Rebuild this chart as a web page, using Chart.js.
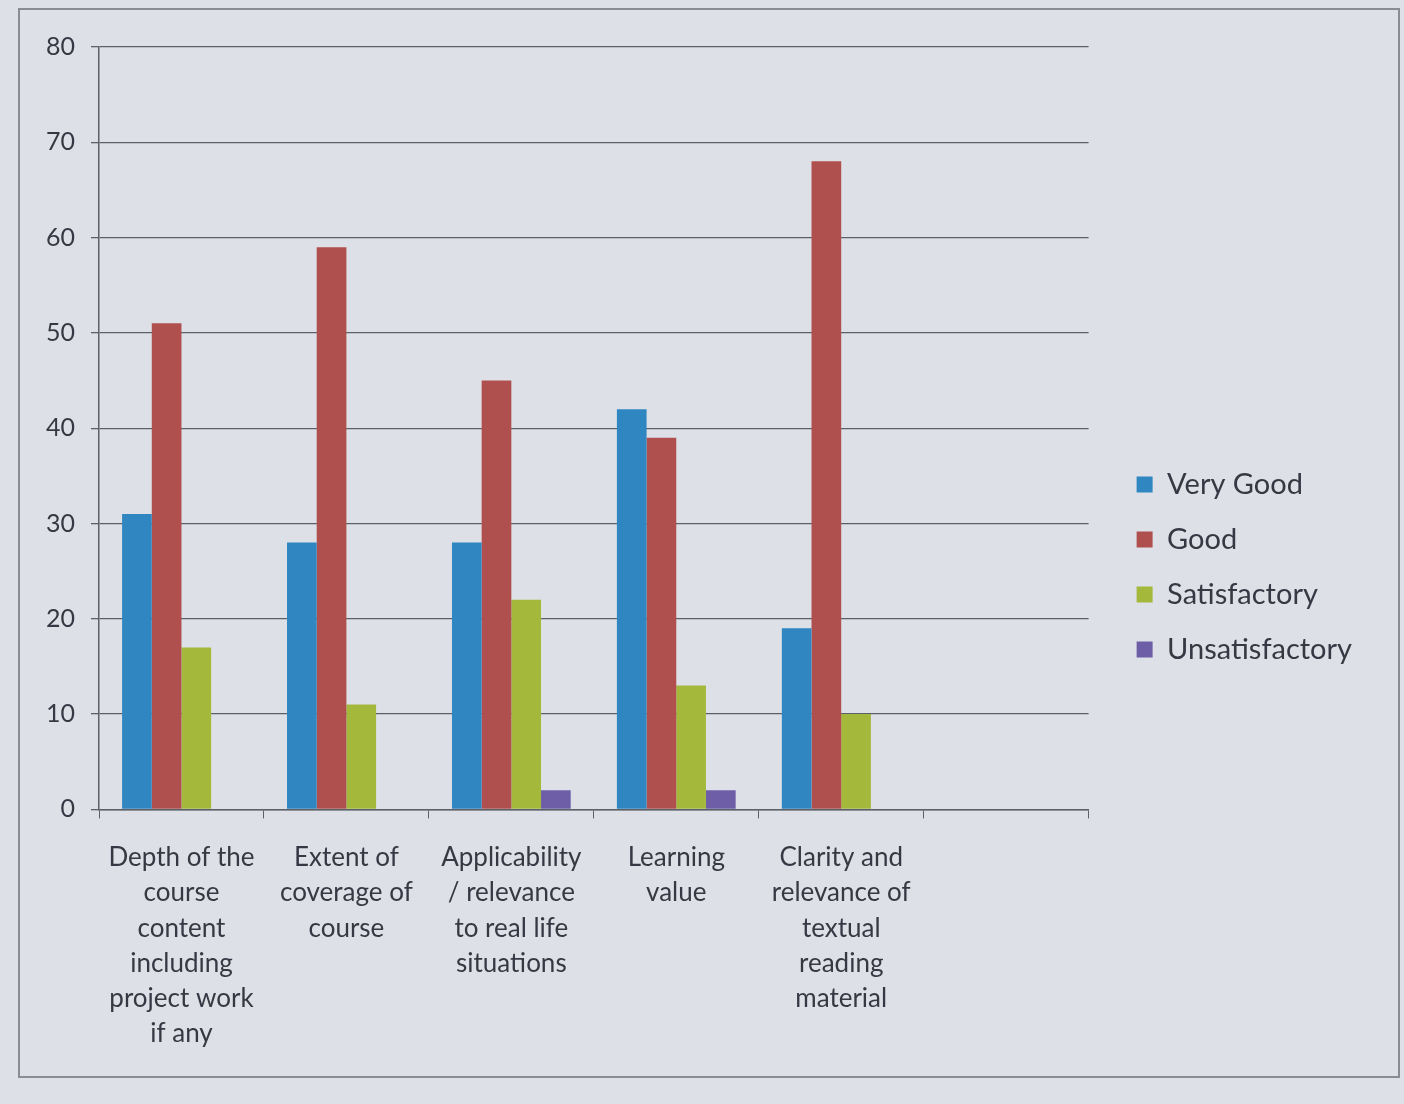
<!DOCTYPE html>
<html>
<head>
<meta charset="utf-8">
<script src="https://cdn.jsdelivr.net/npm/chart.js@4.4.1/dist/chart.umd.min.js"></script>
<style>
    body { margin: 0; background: #dde1e7; }
    #frame {
        position: absolute; left: 18px; top: 8px;
        width: 1378px; height: 1066px;
        border: 2px solid #8a8c92;
    }
</style>
</head>
<body>
<div id="frame"><canvas id="ratingChart" width="1378" height="1066"></canvas></div>
<script>
// Course feedback ratings (percent), last slot left empty as in the original
const categories = [
    ['Depth of the', 'course', 'content', 'including', 'project work', 'if any'],
    ['Extent of', 'coverage of', 'course'],
    ['Applicability', '/ relevance', 'to real life', 'situations'],
    ['Learning', 'value'],
    ['Clarity and', 'relevance of', 'textual', 'reading', 'material'],
    ''
];
const veryGood = [31, 28, 28, 42, 19, null];
const good = [51, 59, 45, 39, 68, null];
const satisfactory = [17, 11, 22, 13, 10, null];
const unsatisfactory = [0, 0, 2, 2, 0, null];
const yTicks = [0, 10, 20, 30, 40, 50, 60, 70, 80];

const textColor = '#383844';
const gridColor = '#5e6068';

// leave a wider gap between the plot and the legend
const legendGap = {
    id: 'legendGap',
    beforeLayout(chart) {
        const legend = chart.legend;
        if (legend && !legend._gapPatched) {
            const fit = legend.fit;
            legend.fit = function () {
                fit.call(this);
                this.width += 22;
            };
            legend._gapPatched = true;
        }
    },
    afterLayout(chart) {
        if (chart.legend) chart.legend.left += 22;
    }
};

const ctx = document.getElementById('ratingChart');
new Chart(ctx, {
    type: 'bar',
    data: {
        labels: categories,
        datasets: [
            { label: 'Very Good', data: veryGood, backgroundColor: '#2f86c0' },
            { label: 'Good', data: good, backgroundColor: '#b0504e' },
            { label: 'Satisfactory', data: satisfactory, backgroundColor: '#a4b83c' },
            { label: 'Unsatisfactory', data: unsatisfactory, backgroundColor: '#6e5ea8' }
        ]
    },
    options: {
        responsive: false,
        animation: false,
        layout: {
            padding: { left: 10, top: 37, right: 36, bottom: 3 }
        },
        datasets: {
            bar: { categoryPercentage: 0.72, barPercentage: 1.0 }
        },
        plugins: {
            legend: {
                position: 'right',
                title: {
                    display: true,
                    text: ' ',
                    font: { size: 10 },
                    padding: { top: 1, bottom: 1 }
                },
                labels: {
                    boxWidth: 16,
                    boxHeight: 16,
                    padding: 26,
                    color: textColor,
                    font: { family: 'Lato', size: 29 }
                }
            },
            tooltip: { enabled: false }
        },
        scales: {
            x: {
                grid: {
                    offset: true,
                    drawOnChartArea: false,
                    drawTicks: true,
                    tickLength: 9,
                    color: gridColor
                },
                border: { color: gridColor, width: 1.5 },
                ticks: {
                    color: textColor,
                    padding: 22,
                    maxRotation: 0,
                    autoSkip: false,
                    font: { family: 'Lato', size: 26, lineHeight: 1.35 }
                }
            },
            y: {
                min: 0,
                max: 80,
                afterBuildTicks: axis => {
                    axis.ticks = yTicks.map(v => ({ value: v }));
                },
                grid: {
                    color: gridColor,
                    lineWidth: 1.3,
                    tickLength: 8
                },
                border: { color: gridColor, width: 1.5 },
                ticks: {
                    color: textColor,
                    padding: 16,
                    font: { family: 'Lato', size: 25 }
                }
            }
        }
    },
    plugins: [legendGap]
});
</script>
</body>
</html>
